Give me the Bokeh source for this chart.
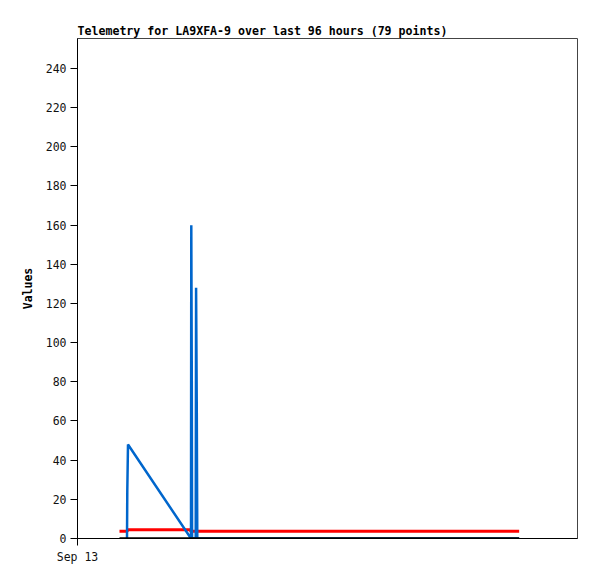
from bokeh.plotting import figure
from bokeh.models import Range1d, FixedTicker
from bokeh.embed import file_html
from bokeh.resources import INLINE

# hours since Sep 13 00:00
blue_x = [11.88, 11.95, 12.12, 27.24, 27.31, 27.43, 27.50, 28.37, 28.46, 28.63, 28.75, 106.0]
blue_y = [0, 24, 48, 0, 160, 80, 0, 0, 128, 64, 0, 0]

red_x = [10.08, 12.0, 12.0, 27.1, 27.1, 106.0]
red_y = [3.7, 3.7, 4.5, 4.5, 3.7, 3.7]

black_x = [10.08, 106.0]
black_y = [0, 0]

y_ticks = list(range(0, 241, 20))
x_ticks = [0]
x_labels = {0: "Sep 13"}

FONT = "DejaVu Sans Mono"

p = figure(width=597, height=579, output_backend="svg", toolbar_location=None,
           x_range=Range1d(0, 120), y_range=Range1d(0, 255.3),
           title="Telemetry for LA9XFA-9 over last 96 hours (79 points)",
           min_border_left=77, min_border_right=20, min_border_top=38, min_border_bottom=41)

p.title.text_font = FONT
p.title.text_font_size = "11.6px"
p.title.text_font_style = "bold"
p.title.text_color = "black"
p.title.offset = 0
p.title.standoff = 2

p.xgrid.visible = False
p.ygrid.visible = False
p.outline_line_color = "#444444"
p.background_fill_color = "white"
p.border_fill_color = "white"

p.yaxis.ticker = FixedTicker(ticks=y_ticks)
p.xaxis.ticker = FixedTicker(ticks=x_ticks)
p.xaxis.major_label_overrides = x_labels
for ax in (p.xaxis[0], p.yaxis[0]):
    ax.major_tick_out = 7
    ax.major_tick_in = 0
    ax.minor_tick_out = 0
    ax.minor_tick_in = 0
    ax.axis_line_color = "black"
    ax.major_tick_line_color = "black"
    ax.major_label_text_font = FONT
    ax.major_label_text_font_size = "11.5px"
    ax.major_label_text_color = "#111111"
    ax.major_label_standoff = 4

p.yaxis.axis_label = "Values"
p.yaxis.axis_label_text_font = FONT
p.yaxis.axis_label_text_font_size = "11.5px"
p.yaxis.axis_label_text_font_style = "bold"
p.yaxis.axis_label_text_color = "black"
p.yaxis.axis_label_standoff = 8

p.line(red_x, red_y, line_color="#ff0000", line_width=3)
p.line(blue_x, blue_y, line_color="#0066cc", line_width=2.5)
p.line(black_x, black_y, line_color="black", line_width=2.5)

open("out.html", "w").write(file_html(p, INLINE))
